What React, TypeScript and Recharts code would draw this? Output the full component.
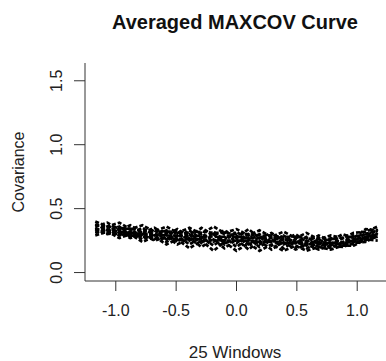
import React from 'react';
import { LineChart, Line, XAxis, YAxis, Label } from 'recharts';

// window positions along the indicator
const xValues = [-1.17, -1.07, -0.97, -0.88, -0.78, -0.68, -0.58, -0.49, -0.39, -0.29, -0.19, -0.1, 0, 0.1, 0.19, 0.29, 0.39, 0.49, 0.58, 0.68, 0.78, 0.88, 0.97, 1.07, 1.17];

// covariance curves
const s1 = [0.4, 0.36, 0.39, 0.34, 0.37, 0.32, 0.36, 0.31, 0.35, 0.3, 0.36, 0.31, 0.34, 0.29, 0.33, 0.28, 0.32, 0.27, 0.31, 0.26, 0.29, 0.27, 0.31, 0.32, 0.36];
const s2 = [0.36, 0.39, 0.33, 0.37, 0.31, 0.35, 0.29, 0.34, 0.28, 0.35, 0.29, 0.33, 0.27, 0.34, 0.27, 0.31, 0.25, 0.3, 0.24, 0.29, 0.25, 0.3, 0.27, 0.34, 0.33];
const s3 = [0.38, 0.33, 0.36, 0.3, 0.35, 0.29, 0.33, 0.27, 0.33, 0.26, 0.32, 0.25, 0.32, 0.25, 0.3, 0.24, 0.29, 0.23, 0.28, 0.22, 0.27, 0.23, 0.29, 0.27, 0.34];
const s4 = [0.33, 0.36, 0.31, 0.34, 0.28, 0.33, 0.26, 0.32, 0.25, 0.31, 0.24, 0.31, 0.23, 0.3, 0.22, 0.29, 0.22, 0.27, 0.21, 0.26, 0.21, 0.27, 0.24, 0.31, 0.29];
const s5 = [0.35, 0.31, 0.34, 0.28, 0.32, 0.26, 0.31, 0.24, 0.3, 0.23, 0.3, 0.22, 0.29, 0.22, 0.28, 0.21, 0.27, 0.2, 0.25, 0.2, 0.24, 0.21, 0.26, 0.25, 0.31];
const s6 = [0.31, 0.34, 0.29, 0.32, 0.26, 0.3, 0.24, 0.29, 0.22, 0.28, 0.21, 0.28, 0.2, 0.27, 0.2, 0.26, 0.19, 0.25, 0.19, 0.23, 0.19, 0.24, 0.22, 0.28, 0.27];
const s7 = [0.34, 0.3, 0.32, 0.27, 0.3, 0.25, 0.28, 0.22, 0.27, 0.2, 0.26, 0.19, 0.26, 0.18, 0.25, 0.18, 0.24, 0.18, 0.22, 0.18, 0.21, 0.2, 0.23, 0.24, 0.29];
const s8 = [0.29, 0.32, 0.27, 0.3, 0.24, 0.28, 0.22, 0.26, 0.19, 0.25, 0.17, 0.24, 0.17, 0.23, 0.17, 0.22, 0.17, 0.21, 0.17, 0.2, 0.18, 0.21, 0.21, 0.26, 0.25];
const s9 = [0.34, 0.33, 0.32, 0.31, 0.3, 0.3, 0.29, 0.29, 0.28, 0.29, 0.28, 0.28, 0.28, 0.27, 0.27, 0.27, 0.26, 0.25, 0.24, 0.24, 0.23, 0.24, 0.26, 0.28, 0.3];
const s10 = [0.32, 0.31, 0.3, 0.29, 0.28, 0.27, 0.27, 0.26, 0.26, 0.26, 0.25, 0.25, 0.25, 0.25, 0.24, 0.24, 0.23, 0.23, 0.22, 0.22, 0.22, 0.23, 0.24, 0.26, 0.28];
const s11 = [0.37, 0.36, 0.35, 0.34, 0.33, 0.33, 0.32, 0.32, 0.31, 0.32, 0.31, 0.31, 0.3, 0.3, 0.29, 0.29, 0.28, 0.28, 0.27, 0.27, 0.26, 0.27, 0.28, 0.3, 0.33];

const curves = [s1, s2, s3, s4, s5, s6, s7, s8, s9, s10, s11];
const xTicks = [-1, -0.5, 0, 0.5, 1];
const yTicks = [0, 0.5, 1, 1.5];

const data = xValues.map((x, i) => {
  const row: Record<string, number> = { x };
  curves.forEach((c, k) => {
    row[`c${k}`] = c[i];
  });
  return row;
});

const FONT = '"Liberation Sans", Arial, Helvetica, sans-serif';
const AXIS = '#333';

const YTick = ({ y, payload }: any) => (
  <text
    x={62}
    y={y}
    textAnchor="middle"
    transform={`rotate(-90, 62, ${y})`}
    fontSize={16}
    fontFamily={FONT}
    fill="#222"
  >
    {payload.value.toFixed(1)}
  </text>
);

export default function App() {
  return (
    <div style={{ position: 'absolute', left: 0, top: 0, width: 386, height: 361, overflow: 'hidden', background: '#fff' }}>
      <LineChart width={388} height={361} data={data} margin={{ top: 63, right: 0, bottom: 0, left: 0 }}>
        <XAxis
          dataKey="x"
          type="number"
          domain={[-1.255, 1.255]}
          ticks={xTicks}
          tickFormatter={(v: number) => v.toFixed(1)}
          height={80}
          tickSize={10}
          tickMargin={14}
          stroke={AXIS}
          tick={{ fill: '#222', fontSize: 16, fontFamily: FONT }}
          allowDataOverflow
        >
          <Label
            content={() => (
              <text x={235} y={358} textAnchor="middle" fontSize={17} fontFamily={FONT} fill="#222">
                25 Windows
              </text>
            )}
          />
        </XAxis>
        <XAxis
          xAxisId="top"
          dataKey="x"
          type="number"
          orientation="top"
          domain={[-1.255, 1.255]}
          height={0}
          tick={false}
          tickLine={false}
          stroke={AXIS}
        />
        <YAxis
          type="number"
          domain={[-0.066, 1.639]}
          ticks={yTicks}
          width={85}
          tickSize={11}
          stroke={AXIS}
          tick={<YTick />}
          allowDataOverflow
        >
          <Label
            content={() => (
              <text
                x={24}
                y={172}
                textAnchor="middle"
                transform="rotate(-90, 24, 172)"
                fontSize={16}
                fontFamily={FONT}
                fill="#222"
              >
                Covariance
              </text>
            )}
          />
        </YAxis>
        {curves.map((_, k) => (
          <Line
            key={k}
            dataKey={`c${k}`}
            type="linear"
            stroke="#000"
            strokeWidth={2.7}
            strokeDasharray="4 2"
            dot={false}
            isAnimationActive={false}
          />
        ))}
      </LineChart>
      <svg width={386} height={40} style={{ position: 'absolute', left: 0, top: 0 }}>
        <text x={235} y={29} textAnchor="middle" fontSize={20} fontWeight="bold" fontFamily={FONT} fill="#111">
          Averaged MAXCOV Curve
        </text>
      </svg>
    </div>
  );
}
